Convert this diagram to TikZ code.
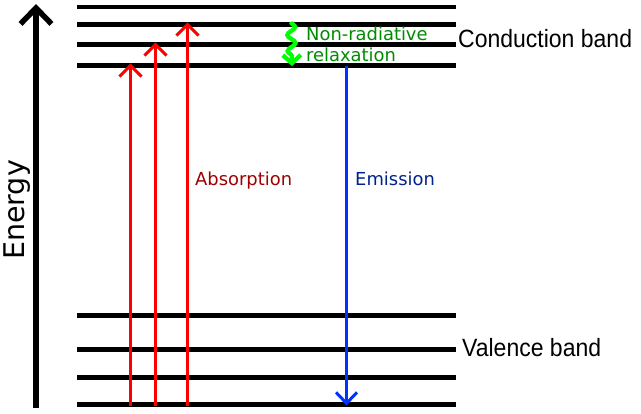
\documentclass[tikz,border=0pt]{standalone}
\usepackage{fontspec}
\usetikzlibrary{arrows.meta,decorations.pathmorphing}
\newfontfamily\labfont{DejaVu Sans}
\newfontfamily\bandfont[FakeStretch=0.92]{Liberation Sans}
\definecolor{absred}{RGB}{160,0,0}
\definecolor{emblue}{RGB}{0,34,140}
\definecolor{nrgreen}{RGB}{0,140,0}
\definecolor{wavegreen}{RGB}{0,255,0}
\definecolor{arrblue}{RGB}{0,51,255}
\begin{document}
\begin{tikzpicture}[x=1pt,y=-1pt,
  level/.style={line width=4.5pt},
  redarrow/.style={red,line width=3pt,-{Straight Barb[length=11pt,width=22pt]}},
  bluearrow/.style={arrblue,line width=3pt,-{Straight Barb[length=11pt,width=21pt]}},
  axisarrow/.style={line width=5.5pt,-{Straight Barb[length=16pt,width=31pt]}},
  smalllab/.style={font=\labfont\fontsize{17.9}{20}\selectfont,inner sep=0pt,anchor=base west},
  bandlab/.style={font=\bandfont\fontsize{25}{28}\selectfont,inner sep=0pt,anchor=base west}]
\useasboundingbox (0,0) rectangle (641,414);
% band levels
\foreach \n/\y in {c1/7,c2/24.5,c3/44.5,c4/65.5,v1/315.5,v2/349.5,v3/377.5,v4/404.5}{
  \coordinate (\n l) at (77,\y);
  \coordinate (\n r) at (456,\y);
  \draw[level] (\n l) -- (\n r);
}
% energy axis
\coordinate (ebot) at (36,408);
\coordinate (etop) at (36,4);
\draw[axisarrow] (ebot) -- (etop);
\node[rotate=90,anchor=base,inner sep=0pt,font=\labfont\fontsize{28.5}{32}\selectfont] (energy) at (24,210) {Energy};
% absorption arrows
\coordinate (a1b) at (130.5,406); \coordinate (a1t) at (130.5,63.5);
\coordinate (a2b) at (155.5,406); \coordinate (a2t) at (155.5,42.5);
\coordinate (a3b) at (187.5,406); \coordinate (a3t) at (187.5,22.5);
\draw[redarrow] (a1b) -- (a1t);
\draw[redarrow] (a2b) -- (a2t);
\draw[redarrow] (a3b) -- (a3t);
% emission arrow
\coordinate (emt) at (346.5,66);
\coordinate (emb) at (346.5,405.5);
\draw[bluearrow] (emt) -- (emb);
% non-radiative relaxation
\coordinate (nrt) at (291,22);
\coordinate (nrb) at (292,66);
\draw[wavegreen,line width=4.3pt,decorate,decoration={snake,amplitude=4pt,segment length=16pt,post length=7pt},-{Straight Barb[length=8pt,width=18pt]}] (nrt) -- (nrb);
% labels
\node[smalllab,text=absred] (abs) at (195,186) {Absorption};
\node[smalllab,text=emblue] (emi) at (355,186) {Emission};
\node[smalllab,text=nrgreen] (nr1) at (306,40.5) {Non-radiative};
\node[smalllab,text=nrgreen] (nr2) at (306,61.5) {relaxation};
\node[bandlab] (cb) at (458,48) {Conduction band};
\node[bandlab] (vb) at (462,357) {Valence band};
\end{tikzpicture}
\end{document}
